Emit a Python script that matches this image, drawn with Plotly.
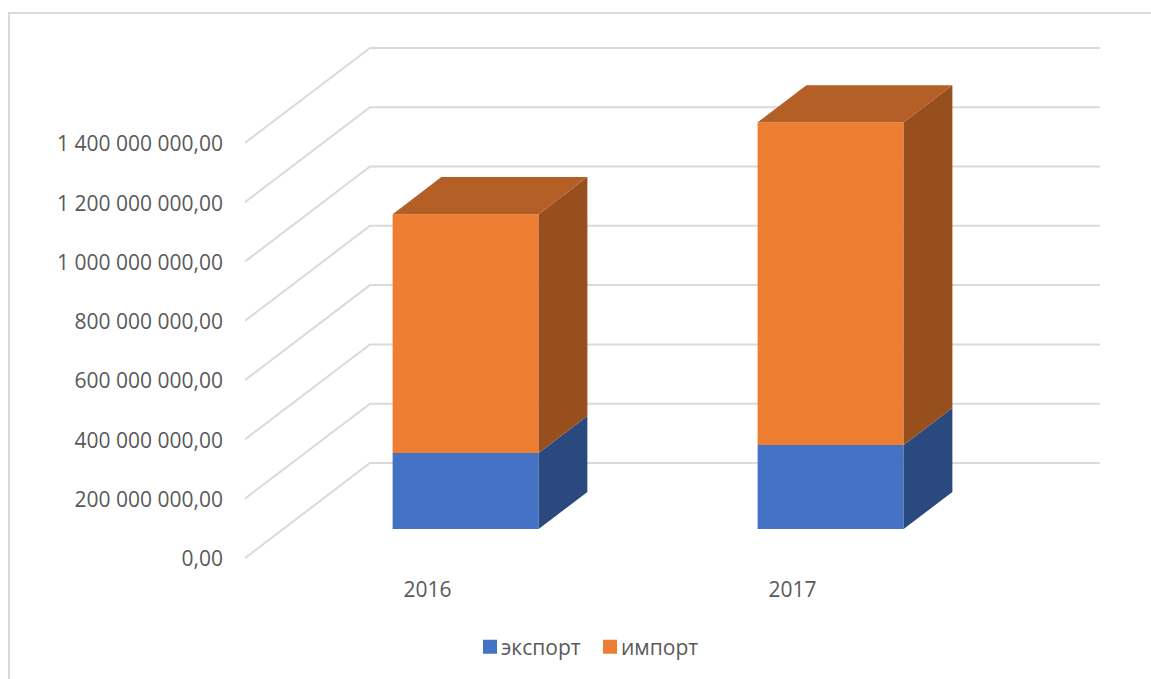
import plotly.graph_objects as go

years = ["2016", "2017"]
export_values = [256e6, 283e6]
import_values = [806e6, 1089e6]
tick_values = [0, 200e6, 400e6, 600e6, 800e6, 1000e6, 1200e6, 1400e6]

BLUE, BLUE_SIDE = "#4472C4", "#2A4A7F"
ORANGE, ORANGE_SIDE, ORANGE_TOP = "#ED7D31", "#97501D", "#B45F25"
GRID = "#DADADA"
TEXT = "#595959"
FONT = "Open Sans"
FONT_SIZE = 21

W, H = 1151, 679
L, B = 228, 107              # margins
PX_PER_CAT = 365.0
PX_PER_VALUE = 59.3 / 200e6
X0_PX, Y0_PX = 427.5, 558.0  # pixel position of first category / value zero

# oblique projection: a full depth unit moves a point right and up
DEPTH_X = 125 / PX_PER_CAT
DEPTH_V = 95 / PX_PER_VALUE
BAR_WIDTH = 0.4
D_FRONT, D_BACK = 0.305, 0.695
GRID_LEFT, GRID_RIGHT = -0.5, 1.5


def proj(x, v, d):
    return x + DEPTH_X * d, v + DEPTH_V * d


positions = list(range(len(years)))
fig = go.Figure()


def polygon(pts, color):
    pts = pts + [pts[0]]
    fig.add_trace(go.Scatter(x=[p[0] for p in pts], y=[p[1] for p in pts], mode="lines",
                             fill="toself", fillcolor=color, line=dict(width=0, color=color),
                             showlegend=False, hoverinfo="skip"))


def side(i, lo, hi, color):
    xr = positions[i] + BAR_WIDTH / 2
    polygon([proj(xr, lo, D_FRONT), proj(xr, lo, D_BACK), proj(xr, hi, D_BACK), proj(xr, hi, D_FRONT)], color)


def top(i, v, color):
    xl, xr = positions[i] - BAR_WIDTH / 2, positions[i] + BAR_WIDTH / 2
    polygon([proj(xl, v, D_FRONT), proj(xr, v, D_FRONT), proj(xr, v, D_BACK), proj(xl, v, D_BACK)], color)


front_x = [proj(p, 0, D_FRONT)[0] for p in positions]
front_base = proj(0, 0, D_FRONT)[1]

fig.add_trace(go.Bar(name="экспорт", x=front_x, y=export_values, width=BAR_WIDTH,
                     base=[front_base] * len(years), marker=dict(color=BLUE, line=dict(width=0))))
fig.add_trace(go.Bar(name="импорт", x=front_x, y=import_values, width=BAR_WIDTH,
                     base=[front_base + e for e in export_values], marker=dict(color=ORANGE, line=dict(width=0))))

for i in positions:
    e, m = export_values[i], import_values[i]
    side(i, 0, e, BLUE_SIDE)
    side(i, e, e + m, ORANGE_SIDE)
    top(i, e + m, ORANGE_TOP)

shapes = []
for v in tick_values:
    a = proj(GRID_LEFT, v, 0)
    b = proj(GRID_LEFT, v, 1)
    c = proj(GRID_RIGHT, v, 1)
    shapes.append(dict(type="path", xref="x", yref="y", layer="below",
                       path=f"M {a[0]},{a[1]} L {b[0]},{b[1]} L {c[0]},{c[1]}",
                       line=dict(color=GRID, width=2)))

# chart-area frame running off the top-right and the bottom of the picture
plot_w, plot_h = W - L, H - B
fx = lambda px: (px - L) / plot_w
fy = lambda py: 1 - py / plot_h
shapes.append(dict(type="path", xref="paper", yref="paper", layer="below",
                   path=f"M {fx(9)},{fy(H + 5)} L {fx(9)},{fy(13)} L {fx(W + 5)},{fy(13)}",
                   line=dict(color=GRID, width=2)))

fig.update_layout(
    width=W, height=H, autosize=False,
    margin=dict(l=L, r=0, t=0, b=B, pad=0),
    paper_bgcolor="white", plot_bgcolor="white",
    barmode="overlay", separators=", ",
    font=dict(family=FONT, size=FONT_SIZE, color=TEXT),
    shapes=shapes,
    showlegend=True,
    legend=dict(orientation="h", x=fx(470), xanchor="left", y=fy(647), yanchor="middle",
                entrywidth=75, entrywidthmode="pixels",
                font=dict(family=FONT, size=FONT_SIZE, color=TEXT), traceorder="normal",
                bgcolor="rgba(0,0,0,0)", itemclick=False, itemdoubleclick=False),
    xaxis=dict(range=[(L - X0_PX) / PX_PER_CAT, (W - X0_PX) / PX_PER_CAT], showgrid=False, zeroline=False,
               showline=False, ticks="", tickmode="array", tickvals=positions, ticktext=years,
               ticklabelstandoff=3,
               tickfont=dict(family=FONT, size=FONT_SIZE, color=TEXT), fixedrange=True),
    yaxis=dict(range=[(Y0_PX - plot_h) / PX_PER_VALUE, Y0_PX / PX_PER_VALUE], showgrid=False, zeroline=False,
               showline=False, ticks="", tickmode="array", tickvals=tick_values, tickformat=",.2f",
               ticklabelstandoff=4, ticklabelshift=1,
               tickfont=dict(family=FONT, size=FONT_SIZE, color=TEXT), fixedrange=True),
)

# page margin off; tighten the gap between legend swatch and its text as in the reference
post = """
document.body.style.margin='0';document.body.style.overflow='hidden';
document.querySelectorAll('.legendtext').forEach(function(t){t.setAttribute('x','31');});
document.querySelectorAll('.legendpoints path').forEach(function(p){
  p.setAttribute('transform',(p.getAttribute('transform')||'')+' scale(1.17)');});
"""
fig.write_html("out.html", post_script=post, config=dict(displayModeBar=False))
